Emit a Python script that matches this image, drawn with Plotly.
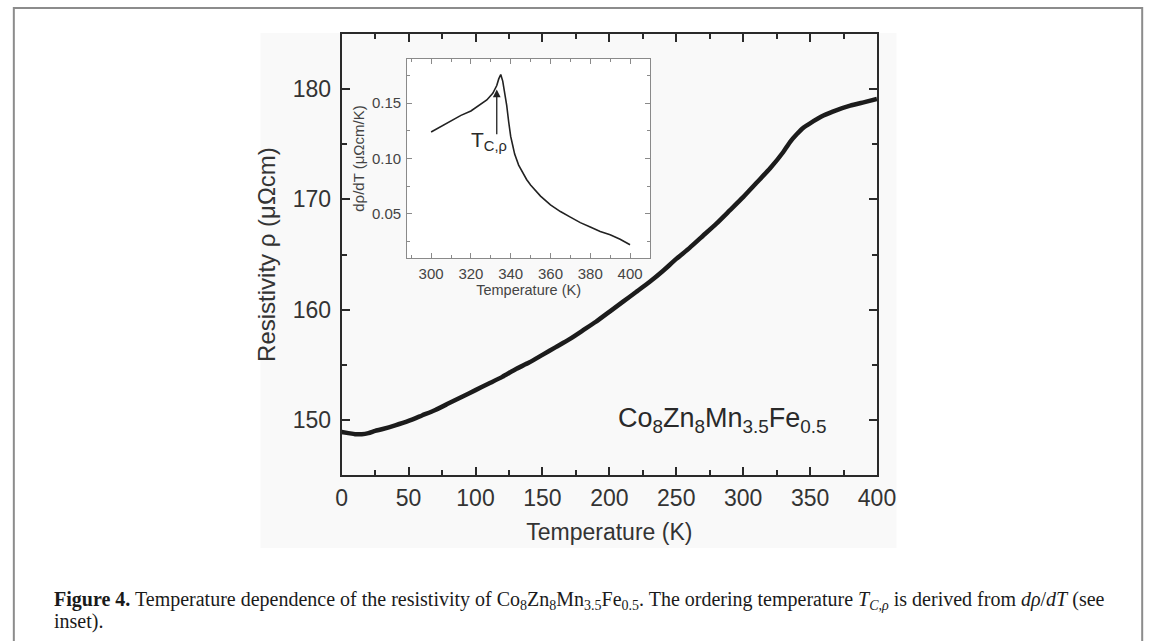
import plotly.graph_objects as go

# Main curve: resistivity vs temperature
temp_main = [0, 5, 10, 15, 20, 25, 30, 40, 50, 60, 70, 80, 90, 100, 110, 120, 130, 140, 150,
             160, 170, 180, 190, 200, 210, 220, 230, 240, 250, 260, 270, 280, 290, 300, 310,
             320, 330, 335, 340, 345, 350, 360, 370, 380, 390, 400]
rho_main = [148.9, 148.8, 148.7, 148.7, 148.8, 149.0, 149.15, 149.5, 149.9, 150.4, 150.9, 151.5,
            152.1, 152.7, 153.3, 153.9, 154.6, 155.2, 155.9, 156.6, 157.3, 158.1, 158.9, 159.8,
            160.7, 161.6, 162.5, 163.5, 164.6, 165.6, 166.7, 167.8, 169.0, 170.2, 171.5, 172.8,
            174.3, 175.2, 175.9, 176.5, 176.9, 177.6, 178.1, 178.5, 178.8, 179.1]

# Inset: derivative drho/dT
temp_inset = [300, 305, 310, 315, 320, 325, 328, 331, 333, 334, 335, 336, 337, 338, 339, 340,
              341, 342, 344, 346, 348, 350, 355, 360, 365, 370, 375, 380, 385, 390, 395, 400]
drho_inset = [0.124, 0.129, 0.134, 0.139, 0.143, 0.149, 0.153, 0.159, 0.166, 0.172, 0.176,
              0.170, 0.160, 0.148, 0.133, 0.120, 0.112, 0.104, 0.094, 0.087, 0.081, 0.076,
              0.066, 0.058, 0.052, 0.047, 0.042, 0.038, 0.034, 0.031, 0.027, 0.022]

main_xticks = [0, 50, 100, 150, 200, 250, 300, 350, 400]
main_yticks = [150, 160, 170, 180]
inset_xticks = [300, 320, 340, 360, 380, 400]
inset_yticks = [0.05, 0.10, 0.15]
t_curie = 333.0

SANS = "Liberation Sans, Arial, sans-serif"
SERIF = "Liberation Serif, Times New Roman, serif"

fig = go.Figure()
fig.add_trace(go.Scatter(x=temp_main, y=rho_main, mode="lines",
                         line=dict(color="#1c1c1c", width=4.5, shape="spline", smoothing=0.5),
                         xaxis="x", yaxis="y", showlegend=False, hoverinfo="skip"))
fig.add_trace(go.Scatter(x=temp_inset, y=drho_inset, mode="lines",
                         line=dict(color="#222222", width=1.6),
                         xaxis="x2", yaxis="y2", showlegend=False, hoverinfo="skip"))

W, H = 1170, 641
def px(x):
    return x / W
def py(y):
    return 1 - y / H

main_axis = dict(showline=True, linecolor="#2a2a2a", linewidth=2, mirror="ticks",
                 ticks="inside", ticklen=8, tickwidth=2, tickcolor="#2a2a2a",
                 showgrid=False, zeroline=False,
                 tickfont=dict(family=SANS, size=23, color="#333333"))
inset_axis = dict(showline=True, linecolor="#8a8a8a", linewidth=1.3, mirror="ticks",
                  ticks="inside", ticklen=5, tickwidth=1.2, tickcolor="#8a8a8a",
                  showgrid=False, zeroline=False,
                  tickfont=dict(family=SANS, size=15, color="#444444"))

fig.update_layout(
    width=W, height=H, margin=dict(l=0, r=0, t=0, b=0), autosize=False,
    paper_bgcolor="white", plot_bgcolor="rgba(0,0,0,0)",
    xaxis=dict(main_axis, domain=[px(343), px(890)], range=[0, 400], tickvals=main_xticks,
               minor=dict(ticks="inside", ticklen=5, tickwidth=1.5, tickcolor="#2a2a2a", dtick=25),
               anchor="y", ticklabelstandoff=1,
               title=dict(text="Temperature (K)", font=dict(family=SANS, size=23, color="#333333"),
                          standoff=14)),
    yaxis=dict(main_axis, domain=[py(475), py(34)], range=[145, 185], tickvals=main_yticks,
               minor=dict(ticks="inside", ticklen=5, tickwidth=1.5, tickcolor="#2a2a2a", dtick=5),
               anchor="x", ticklabelstandoff=4,
               title=dict(text="Resistivity ρ (μΩcm)", font=dict(family=SANS, size=24, color="#333333"),
                          standoff=10)),
    xaxis2=dict(inset_axis, domain=[px(410), px(658)], range=[288, 410], tickvals=inset_xticks,
                minor=dict(ticks="inside", ticklen=3, tickwidth=1, tickcolor="#8a8a8a", dtick=10),
                anchor="y2", ticklabelstandoff=2,
                title=dict(text="Temperature (K)", font=dict(family=SANS, size=14.5, color="#444444"),
                           standoff=2)),
    yaxis2=dict(inset_axis, domain=[py(258), py(59)], range=[0.01, 0.19], tickvals=inset_yticks,
                tickformat=".2f",
                minor=dict(ticks="inside", ticklen=3, tickwidth=1, tickcolor="#8a8a8a", dtick=0.025),
                anchor="x2", ticklabelstandoff=2,
                title=dict(text="dρ/dT (μΩcm/K)", font=dict(family=SANS, size=15, color="#444444"),
                           standoff=3)),
    shapes=[
        # faint grey image background
        dict(type="rect", xref="paper", yref="paper", x0=px(260), x1=px(910), y0=py(548), y1=py(33),
             fillcolor="#f9f9f9", line=dict(width=0), layer="below"),
        # white inset background
        dict(type="rect", xref="paper", yref="paper", x0=px(410), x1=px(658), y0=py(258), y1=py(59),
             fillcolor="white", line=dict(width=0), layer="below"),
        # outer frame
        dict(type="rect", xref="paper", yref="paper", x0=px(8), x1=px(1161), y0=py(660), y1=py(8),
             fillcolor="rgba(0,0,0,0)", line=dict(color="#8c8c8c", width=2)),
    ],
    annotations=[
        dict(text="Co<sub>8</sub>Zn<sub>8</sub>Mn<sub>3.5</sub>Fe<sub>0.5</sub>",
             xref="paper", yref="paper", x=px(732), y=py(420), xanchor="center", yanchor="middle",
             showarrow=False, font=dict(family=SANS, size=27, color="#2a2a2a")),
        dict(text="T<sub>C,ρ</sub>", xref="paper", yref="paper", x=px(473), y=py(141),
             xanchor="left", yanchor="middle", showarrow=False,
             font=dict(family=SANS, size=21, color="#2a2a2a")),
        dict(text="", xref="x2", yref="y2", x=t_curie, y=0.1625, axref="x2", ayref="y2",
             ax=t_curie, ay=0.1205, showarrow=True, arrowhead=2, arrowsize=1.2, arrowwidth=1.3,
             arrowcolor="#222222", standoff=0, startstandoff=0),
        dict(text="<b>Figure 4.</b> Temperature dependence of the resistivity of "
                  "Co<sub>8</sub>Zn<sub>8</sub>Mn<sub>3.5</sub>Fe<sub>0.5</sub>. "
                  "The ordering temperature <i>T</i><sub><i>C,ρ</i></sub> is derived from "
                  "<i>dρ</i>/<i>dT</i> (see",
             xref="paper", yref="paper", x=px(47), y=py(600), xanchor="left", yanchor="middle",
             align="left", showarrow=False,
             font=dict(family=SERIF, size=20, color="#1a1a1a")),
        dict(text="inset).",
             xref="paper", yref="paper", x=px(47), y=py(621), xanchor="left", yanchor="middle",
             align="left", showarrow=False,
             font=dict(family=SERIF, size=20, color="#1a1a1a")),
    ],
)

fig.write_html(
    "out.html",
    config={"displayModeBar": False, "responsive": False},
    post_script=(
        "document.documentElement.style.overflow='hidden';"
        "document.body.style.overflow='hidden';"
        "document.body.style.margin='0';"
    ),
)
